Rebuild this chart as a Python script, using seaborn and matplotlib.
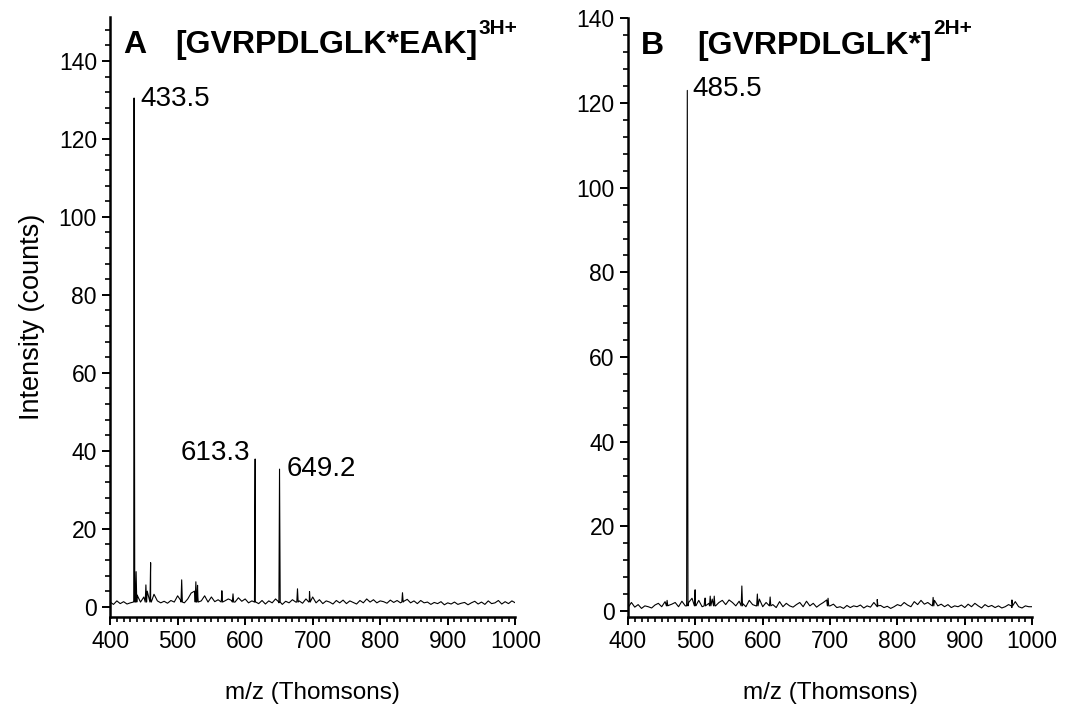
import numpy as np
import pandas as pd
import seaborn as sns
import matplotlib.pyplot as plt
from matplotlib.ticker import MultipleLocator, AutoMinorLocator

# baseline noise every 5 Th from 400 to 1000
mz_grid = np.arange(400, 1001, 5)

noise_a = [1.2, 0.6, 1.5, 0.8, 1.3, 0.7, 1.0, 1.5, 3.0, 1.2,
           2.5, 4.0, 2.0, 3.2, 1.5, 1.0, 1.4, 0.9, 1.6, 1.2,
           2.8, 1.5, 1.0, 2.0, 3.5, 4.0, 2.5, 1.5, 2.8, 1.2,
           2.5, 1.3, 1.8, 2.2, 1.5, 2.0, 1.6, 1.2, 2.3, 1.4,
           2.0, 1.0, 1.5, 1.2, 0.8, 1.6, 0.7, 1.5, 1.0, 2.0,
           1.0, 0.6, 1.4, 1.0, 1.8, 1.2, 1.5, 0.9, 2.0, 1.5,
           2.5, 1.0, 1.8, 0.8, 1.5, 1.2, 0.7, 1.6, 1.0, 1.7,
           0.8, 1.5, 1.1, 0.7, 1.6, 1.0, 2.0, 1.2, 1.8, 1.0,
           1.5, 1.3, 0.9, 1.7, 1.1, 1.6, 1.0, 1.4, 1.9, 1.0,
           1.5, 0.8, 1.6, 1.0, 1.2, 0.6, 1.1, 0.8, 1.3, 0.5,
           1.0, 0.7, 1.2, 0.6, 0.9, 1.1, 0.5, 1.0, 1.4, 0.7,
           1.2, 0.6, 1.5, 0.8, 1.0, 1.6, 0.7, 1.3, 0.8, 1.5,
           1.0]

noise_b = [0.8, 2.0, 0.9, 1.5, 0.6, 1.2, 1.0, 0.7, 1.4, 1.8,
           1.0, 2.2, 1.3, 1.6, 2.0, 1.0, 2.3, 1.2, 2.0, 3.0,
           1.5, 2.5, 1.0, 3.0, 1.8, 2.8, 1.2, 2.0, 2.5, 1.5,
           2.6, 2.0, 1.2, 2.3, 1.8, 1.0, 2.5, 1.5, 1.2, 2.8,
           1.0, 2.0, 1.3, 1.5, 0.8, 2.2, 1.0, 1.8, 1.2, 0.9,
           1.5, 2.0, 1.0, 2.3, 1.2, 1.8, 0.9, 1.5, 2.0, 2.6,
           1.2, 1.6, 0.8, 1.0, 0.6, 1.3, 0.8, 1.2, 1.0, 1.4,
           0.7, 1.2, 0.9, 2.0, 1.0, 1.3, 0.8, 1.1, 0.6, 1.0,
           1.5, 1.2, 2.0, 1.4, 1.0, 2.2, 1.5, 2.5, 1.6, 2.0,
           1.4, 2.5, 1.2, 1.6, 1.0, 1.5, 0.8, 1.2, 1.0, 1.4,
           0.8, 1.6, 1.0, 1.8, 1.2, 0.7, 1.5, 1.0, 1.3, 0.8,
           1.2, 0.7, 1.0, 1.5, 0.8, 2.2, 1.0, 0.7, 1.2, 1.0,
           1.0]

# peaks (m/z position as drawn, height)
peaks_a_mz = [435.5, 438.5, 453, 460, 506, 527, 529.5, 565.5, 582, 614.8, 650.9, 677.5, 695.3, 833]
peaks_a_int = [130.5, 9, 5.6, 11.3, 6.9, 6.4, 5.5, 4.1, 3.3, 37.9, 35.3, 4.6, 3.9, 3.6]

peaks_b_mz = [458, 488, 499.6, 514, 522, 528, 569, 592, 611, 697, 770, 853, 970]
peaks_b_int = [2.5, 123, 5.0, 3.0, 3.5, 3.5, 5.9, 4.0, 3.3, 3.0, 2.7, 3.2, 2.6]

labels_a = ['433.5', '613.3', '649.2']
labels_b = ['485.5']


def build_spectrum(noise, pk_mz, pk_int):
    x = list(mz_grid)
    y = list(noise)
    for m, h in zip(pk_mz, pk_int):
        x += [m - 1.0, m, m + 1.0]
        y += [1.2, h, 1.2]
    df = pd.DataFrame({'mz': x, 'intensity': y})
    return df.sort_values('mz').reset_index(drop=True)


sns.set_style('ticks')
plt.rcParams['font.family'] = ['Liberation Sans', 'DejaVu Sans']
plt.rcParams['text.color'] = 'black'
plt.rcParams['axes.labelcolor'] = 'black'
plt.rcParams['xtick.color'] = 'black'
plt.rcParams['ytick.color'] = 'black'

fig = plt.figure(figsize=(10.69, 7.05), dpi=100)
ax_a = fig.add_axes([0.103, 0.125, 0.379, 0.851])
ax_b = fig.add_axes([0.5875, 0.125, 0.378, 0.850])

spec_a = build_spectrum(noise_a, peaks_a_mz, peaks_a_int)
spec_b = build_spectrum(noise_b, peaks_b_mz, peaks_b_int)

for ax, spec, ylim in [(ax_a, spec_a, (-2.6, 151.3)), (ax_b, spec_b, (-1.4, 140.2))]:
    sns.lineplot(data=spec, x='mz', y='intensity', ax=ax, color='black',
                 lw=0.8, estimator=None, sort=False)
    ax.set_xlim(400, 1000)
    ax.set_ylim(*ylim)
    ax.xaxis.set_major_locator(MultipleLocator(100))
    ax.xaxis.set_minor_locator(MultipleLocator(10))
    ax.yaxis.set_major_locator(MultipleLocator(20))
    ax.yaxis.set_minor_locator(AutoMinorLocator(5))
    ax.tick_params(which='major', length=6, width=1.4, labelsize=16.5, colors='black')
    ax.tick_params(which='minor', length=3.5, width=1.2, colors='black')
    for side in ['left', 'bottom']:
        ax.spines[side].set_linewidth(1.8)
        ax.spines[side].set_color('black')
    sns.despine(ax=ax)
    ax.set_xlabel('m/z (Thomsons)', fontsize=17.5, labelpad=21)
    ax.set_ylabel('')

ax_a.set_ylabel('Intensity (counts)', fontsize=19.5, labelpad=10)

# peak labels
ax_a.annotate(labels_a[0], xy=(peaks_a_mz[0], peaks_a_int[0]), xytext=(6, -1),
              textcoords='offset pixels', ha='left', va='center', fontsize=20)
ax_a.annotate(labels_a[1], xy=(peaks_a_mz[9], peaks_a_int[9]), xytext=(-5, 6),
              textcoords='offset pixels', ha='right', va='center', fontsize=20)
ax_a.annotate(labels_a[2], xy=(peaks_a_mz[10], peaks_a_int[10]), xytext=(7, 0),
              textcoords='offset pixels', ha='left', va='center', fontsize=20)
ax_b.annotate(labels_b[0], xy=(peaks_b_mz[1], peaks_b_int[1]), xytext=(5, 1),
              textcoords='offset pixels', ha='left', va='center', fontsize=20)

# panel titles
for ax, letter, seq, charge, x0 in [(ax_a, 'A', '[GVRPDLGLK*EAK]', '3H+', 0.16),
                                     (ax_b, 'B', '[GVRPDLGLK*]', '2H+', 0.171)]:
    ax.text(0.032, 0.953, letter, transform=ax.transAxes, fontsize=23,
            fontweight='bold', ha='left', va='center')
    t = ax.text(x0, 0.953, seq, transform=ax.transAxes, fontsize=23,
                fontweight='bold', ha='left', va='center')
    ax.annotate(charge, xy=(1.0, 0.75), xycoords=t, xytext=(1, 0),
                textcoords='offset pixels', fontsize=15, fontweight='bold',
                ha='left', va='bottom')

fig.savefig('out.png', dpi=100)
